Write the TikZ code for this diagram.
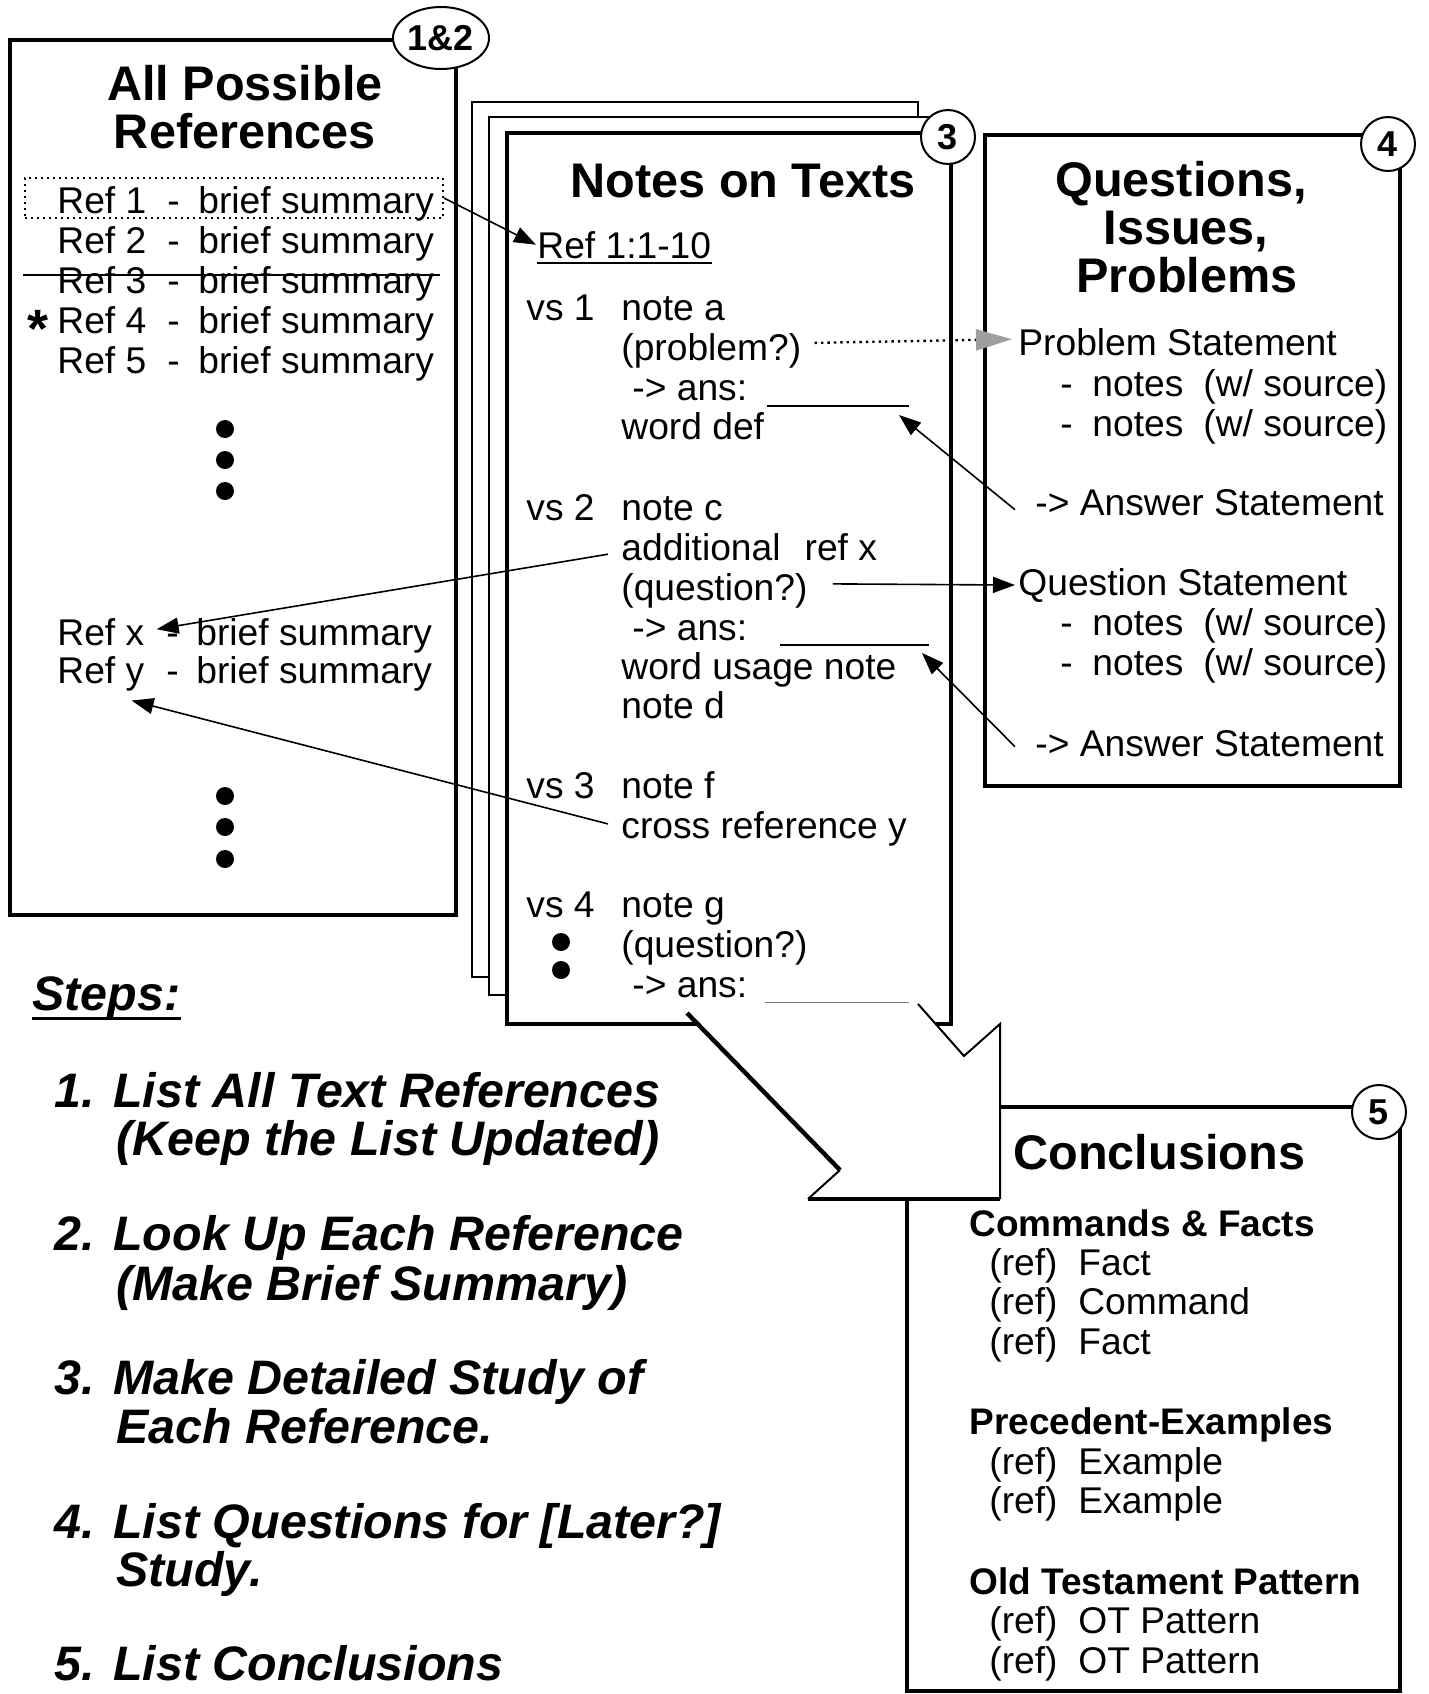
\documentclass[tikz,border=0pt]{standalone}
\usepackage{fontspec}
\setmainfont{Liberation Sans}
\usetikzlibrary{arrows.meta,shapes.geometric}
\begin{document}
\begin{tikzpicture}[x=0.5pt,y=-0.5pt,
  txt/.style={anchor=base west,inner sep=0pt,font=\fontsize{18.6}{20}\selectfont},
  ttl/.style={anchor=base,inner sep=0pt,font=\bfseries\fontsize{24.3}{28}\selectfont},
  subh/.style={anchor=base west,inner sep=0pt,font=\bfseries\fontsize{18.5}{20}\selectfont},
  stp/.style={anchor=base west,inner sep=0pt,font=\bfseries\itshape\fontsize{24.2}{28}\selectfont},
  boxline/.style={line width=2.2pt},
  pageline/.style={line width=1pt,fill=white},
  numc/.style={circle,draw,line width=1pt,fill=white,minimum size=27pt,inner sep=0pt,font=\bfseries\fontsize{18}{20}\selectfont},
  conn/.style={line width=0.8pt,-{Triangle[length=11pt,width=8pt]}},
  bigdot/.style={circle,fill,inner sep=0pt,minimum size=9pt},
  ulin/.style={line width=1pt},
]
\useasboundingbox (0,0) rectangle (1429,1694);

% ---------- Box 1&2 ----------
\draw[boxline] (10,40) rectangle (456,915);
\node[ellipse,draw,line width=1pt,fill=white,minimum width=48pt,minimum height=31pt,inner sep=0pt,
      font=\bfseries\fontsize{18}{20}\selectfont] (n12) at (441,38) {1\&2};
\node[ttl] (t1a) at (245,100) {All Possible};
\node[ttl] (t1b) at (245,148) {References};
\node[draw,dotted,line width=1pt,minimum width=209pt,minimum height=20pt,inner sep=0pt] (r1box) at (234,198) {};
\node[txt] (r1) at (57,213) {\makebox[55pt][l]{Ref 1}\makebox[15.5pt][l]{-}brief summary};
\node[txt] (r2) at (57,253) {\makebox[55pt][l]{Ref 2}\makebox[15.5pt][l]{-}brief summary};
\node[txt] (r3) at (57,293) {\makebox[55pt][l]{Ref 3}\makebox[15.5pt][l]{-}brief summary};
\node[txt] (r4) at (57,333) {\makebox[55pt][l]{Ref 4}\makebox[15.5pt][l]{-}brief summary};
\node[txt] (r5) at (57,373) {\makebox[55pt][l]{Ref 5}\makebox[15.5pt][l]{-}brief summary};
\draw[ulin] (23,275) -- (440,275);
\node[anchor=base west,inner sep=0pt,font=\bfseries\fontsize{27}{28}\selectfont] (star) at (27,347) {*};
\node[bigdot] (d1) at (225,429) {};
\node[bigdot] (d2) at (225,460) {};
\node[bigdot] (d3) at (225,491) {};
\node[txt] (rx) at (57,645) {Ref x};
\node[txt] (rxs) at (166,645) {\makebox[15pt][l]{-}brief summary};
\node[txt] (ry) at (57,683) {Ref y};
\node[txt] (rys) at (166,683) {\makebox[15pt][l]{-}brief summary};
\node[bigdot] (d4) at (225,796) {};
\node[bigdot] (d5) at (225,827) {};
\node[bigdot] (d6) at (225,859) {};

% ---------- Notes pages ----------
\draw[pageline] (472,102) rectangle (918,977);
\draw[pageline] (489,117) rectangle (935,995);
\draw[boxline,fill=white] (507,133) rectangle (951,1024);
\node[numc] (c3) at (948,137) {3};
\node[ttl] (t3) at (743,197) {Notes on Texts};
\node[txt] (ref11) at (537,258) {Ref 1:1-10};
\draw[ulin] ([yshift=-2.5pt]ref11.base west) -- ([yshift=-2.5pt]ref11.base east);

\node[txt] (vs1) at (526,320) {vs 1};
\node[txt] (na) at (621,320) {note a};
\node[txt] (prob) at (621,360) {(problem?)};
\node[txt] (ans1) at (632,400) {-> ans:};
\node[txt] (wd) at (621,439) {word def};
\coordinate (ul1a) at (767,406);
\coordinate (ul1b) at (909,406);
\draw[ulin] (ul1a) -- (ul1b);

\node[txt] (vs2) at (526,520) {vs 2};
\node[txt] (nc) at (621,520) {note c};
\node[txt] (addl) at (621,560) {additional\hspace{12pt}ref x};
\node[txt] (q2) at (621,600) {(question?)};
\node[txt] (ans2) at (632,640) {-> ans:};
\node[txt] (wu) at (621,679) {word usage note};
\node[txt] (nd) at (621,718) {note d};
\coordinate (ul2a) at (780,645);
\coordinate (ul2b) at (929,645);
\draw[ulin] (ul2a) -- (ul2b);

\node[txt] (vs3) at (526,798) {vs 3};
\node[txt] (nf) at (621,798) {note f};
\node[txt] (cross) at (621,838) {cross reference y};

\node[txt] (vs4) at (526,917) {vs 4};
\node[txt] (ng) at (621,917) {note g};
\node[txt] (q4) at (621,957) {(question?)};
\node[txt] (ans4) at (632,997) {-> ans:};
\node[bigdot] (d7) at (561,942) {};
\node[bigdot] (d8) at (561,970) {};
\coordinate (ul4a) at (765,1002);
\coordinate (ul4b) at (909,1002);
\draw[line width=0.5pt,gray] (ul4a) -- (ul4b);

% ---------- Box 4 ----------
\draw[boxline] (985,135) rectangle (1400,786);
\node[numc] (c4) at (1388,144) {4};
\node[ttl] (t4a) at (1181,196) {Questions,};
\node[ttl] (t4b) at (1186,244) {Issues,};
\node[ttl] (t4c) at (1187,292) {Problems};
\node[txt] (ps) at (1018,355) {Problem Statement};
\node[txt] (pn1) at (1060,396) {\makebox[16pt][l]{-}\makebox[55.5pt][l]{notes}(w/ source)};
\node[txt] (pn2) at (1060,436) {\makebox[16pt][l]{-}\makebox[55.5pt][l]{notes}(w/ source)};
\node[txt] (as1) at (1035,515) {-> Answer Statement};
\node[txt] (qs) at (1018,595) {Question Statement};
\node[txt] (qn1) at (1060,635) {\makebox[16pt][l]{-}\makebox[55.5pt][l]{notes}(w/ source)};
\node[txt] (qn2) at (1060,675) {\makebox[16pt][l]{-}\makebox[55.5pt][l]{notes}(w/ source)};
\node[txt] (as2) at (1035,756) {-> Answer Statement};

% ---------- Box 5 ----------
\draw[boxline] (907,1107) rectangle (1400,1691);
\node[numc] (c5) at (1379,1112) {5};
\node[ttl,anchor=base west] (t5) at (1013,1169) {Conclusions};
\node[subh] (h1) at (969,1236) {Commands \& Facts};
\node[txt] (f1) at (989,1275) {\makebox[44.5pt][l]{(ref)}Fact};
\node[txt] (f2) at (989,1314) {\makebox[44.5pt][l]{(ref)}Command};
\node[txt] (f3) at (989,1354) {\makebox[44.5pt][l]{(ref)}Fact};
\node[subh] (h2) at (969,1434) {Precedent-Examples};
\node[txt] (e1) at (989,1474) {\makebox[44.5pt][l]{(ref)}Example};
\node[txt] (e2) at (989,1513) {\makebox[44.5pt][l]{(ref)}Example};
\node[subh] (h3) at (969,1594) {Old Testament Pattern};
\node[txt] (o1) at (989,1633) {\makebox[44.5pt][l]{(ref)}OT Pattern};
\node[txt] (o2) at (989,1673) {\makebox[44.5pt][l]{(ref)}OT Pattern};

% ---------- Block arrow ----------
\coordinate (P1) at (687,1013);
\coordinate (P2) at (840,1170);
\coordinate (P3) at (808,1199);
\coordinate (P4) at (1000,1199);
\coordinate (P5) at (1000,1024);
\coordinate (P6) at (964,1056);
\coordinate (P7) at (918,1004);
\fill[white] (P1) -- (P2) -- (P3) -- (P4) -- (P5) -- (P6) -- (P7) -- cycle;
\draw[line width=2.2pt] (P1) -- (P2);
\draw[line width=1pt] (P2) -- (P3);
\draw[line width=2.2pt] (P3) -- (P4);
\draw[line width=1pt] (P4) -- (P5) -- (P6) -- (P7);

% ---------- Steps ----------
\node[stp] (steps) at (32,1010) {Steps:};
\draw[line width=1.5pt] ([yshift=-4pt]steps.base west) -- ([yshift=-4pt]steps.base east);
\node[stp] (s1n) at (54,1107) {1.};
\node[stp] (s1a) at (113,1107) {List All Text References};
\node[stp] (s1b) at (116,1155) {(Keep the List Updated)};
\node[stp] (s2n) at (54,1250) {2.};
\node[stp] (s2a) at (113,1250) {Look Up Each Reference};
\node[stp] (s2b) at (116,1300) {(Make Brief Summary)};
\node[stp] (s3n) at (54,1394) {3.};
\node[stp] (s3a) at (113,1394) {Make Detailed Study of};
\node[stp] (s3b) at (116,1443) {Each Reference.};
\node[stp] (s4n) at (54,1538) {4.};
\node[stp] (s4a) at (113,1538) {List Questions for [Later?]};
\node[stp] (s4b) at (116,1586) {Study.};
\node[stp] (s5n) at (54,1680) {5.};
\node[stp] (s5a) at (113,1680) {List Conclusions};

% ---------- Connectors ----------
\draw[conn] (r1box.east) -- ([xshift=-0.5pt]ref11.west);
\draw[line width=1.2pt,dotted,-{Triangle[length=18pt,width=10.5pt,fill=gray!75,color=gray!75]}]
  ([xshift=6.5pt,yshift=3.75pt]prob.east) -- ([xshift=-3pt,yshift=1.25pt]ps.west);
\draw[conn] ([xshift=-10pt,yshift=-3.75pt]as1.west) -- ([xshift=-5pt,yshift=-4.5pt]ul1b);
\draw[conn] ([xshift=-6.5pt,yshift=-3.75pt]addl.west) -- ([xshift=6pt,yshift=1.25pt]rx.east);
\draw[conn] ([xshift=12.5pt,yshift=3.25pt]q2.east) -- ([xshift=-1.5pt]qs.west);
\draw[conn] ([xshift=-10pt,yshift=-1.75pt]as2.west) -- ([xshift=-3.5pt,yshift=-4pt]ul2b);
\draw[conn] ([xshift=-6.5pt,yshift=2.25pt]cross.west) -- ([xshift=-6.5pt,yshift=-4.7pt]ry.south east);
\end{tikzpicture}
\end{document}
